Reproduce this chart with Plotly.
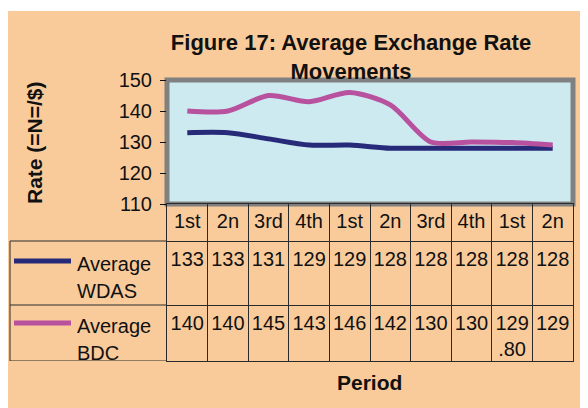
import plotly.graph_objects as go

W, H = 588, 408

periods = ["1st", "2n", "3rd", "4th", "1st", "2n", "3rd", "4th", "1st", "2n"]
wdas = [133, 133, 131, 129, 129, 128, 128, 128, 128, 128]
bdc = [140, 140, 145, 143, 146, 142, 130, 130, 129.80, 129]
wdas_txt = ["133", "133", "131", "129", "129", "128", "128", "128", "128", "128"]
bdc_txt = ["140", "140", "145", "143", "146", "142", "130", "130", "129<br>.80", "129"]
y_ticks = [110, 120, 130, 140, 150]

NAVY = "#262a78"
MAGENTA = "#b8519e"
ORANGE = "#f9cb9b"
BLUE = "#cdeaf0"
GRID = "#2a2a2a"
FONT = "Arial, Liberation Sans, sans-serif"

idx = list(range(len(periods)))

# page has an 8px body margin; margins are zero so paper = pixels / size
def px(x):
    return (x - 8) / W


def py(y):
    return 1 - (y - 8) / H


# table rows in y2 units (0 = table bottom)
row_edges = [0, 56, 120, 157]

fig = go.Figure()

fig.add_trace(go.Scatter(
    x=idx, y=wdas, mode="lines", line=dict(color=NAVY, width=5, shape="spline", smoothing=0.8),
    hoverinfo="skip", showlegend=False))
fig.add_trace(go.Scatter(
    x=idx, y=bdc, mode="lines", line=dict(color=MAGENTA, width=5, shape="spline", smoothing=0.8),
    hoverinfo="skip", showlegend=False))

# data table
txt_font = dict(family=FONT, size=20, color="#111")
fig.add_trace(go.Scatter(
    x=idx, y=[138] * len(idx), text=periods, mode="text", textposition="middle center",
    textfont=txt_font, xaxis="x2", yaxis="y2", hoverinfo="skip", showlegend=False))
fig.add_trace(go.Scatter(
    x=idx, y=[row_edges[2] - 10] * len(idx), text=wdas_txt, mode="text",
    textposition="bottom center", textfont=txt_font, xaxis="x2", yaxis="y2",
    hoverinfo="skip", showlegend=False))
fig.add_trace(go.Scatter(
    x=idx, y=[row_edges[1] - 10] * len(idx), text=bdc_txt, mode="text",
    textposition="bottom center", textfont=txt_font, xaxis="x2", yaxis="y2",
    hoverinfo="skip", showlegend=False))

xdom = [px(167), px(573)]
shapes = [
    # orange panel
    dict(type="rect", xref="paper", yref="paper", x0=0, x1=1.05, y0=-0.05, y1=py(11),
         fillcolor=ORANGE, line_width=0, layer="below"),
    # plot area with grey frame
    dict(type="rect", xref="x domain", yref="y domain", x0=0, x1=1, y0=0, y1=1,
         fillcolor=BLUE, line=dict(color="#808080", width=5), layer="below"),
    # legend column of the table
    dict(type="line", xref="paper", yref="y2", x0=px(10), x1=xdom[0], y0=row_edges[2], y1=row_edges[2],
         line=dict(color=GRID, width=1)),
    dict(type="line", xref="paper", yref="y2", x0=px(10), x1=xdom[0], y0=row_edges[1], y1=row_edges[1],
         line=dict(color=GRID, width=1)),
    dict(type="line", xref="paper", yref="y2", x0=px(10), x1=xdom[0], y0=0, y1=0,
         line=dict(color=GRID, width=1)),
    dict(type="line", xref="paper", yref="y2", x0=px(10), x1=px(10), y0=0, y1=row_edges[2],
         line=dict(color=GRID, width=1)),
    # legend keys
    dict(type="line", xref="paper", yref="y2", x0=px(14), x1=px(71), y0=100, y1=100,
         line=dict(color=NAVY, width=5)),
    dict(type="line", xref="paper", yref="y2", x0=px(14), x1=px(71), y0=38, y1=38,
         line=dict(color=MAGENTA, width=5)),
]

annotations = []
for label, y in [("Average", 97), ("WDAS", 70), ("Average", 35), ("BDC", 8)]:
    annotations.append(dict(text=label, xref="paper", yref="y2", x=px(75), y=y,
                            xanchor="left", yanchor="middle", showarrow=False, font=txt_font))
annotations.append(dict(text="<b>Period</b>", xref="paper", yref="paper", x=px(369), y=py(382),
                        xanchor="center", yanchor="middle", showarrow=False,
                        font=dict(family=FONT, size=21, color="#111")))
annotations.append(dict(text="<b>Rate (=N=/$)</b>", xref="paper", yref="paper", x=px(35), y=py(143),
                        xanchor="center", yanchor="middle", textangle=-90, showarrow=False,
                        font=dict(family=FONT, size=21, color="#111")))

fig.update_layout(
    width=W, height=H,
    template="none",
    margin=dict(l=0, r=0, t=0, b=0),
    paper_bgcolor="white",
    plot_bgcolor="rgba(0,0,0,0)",
    showlegend=False,
    font=dict(family=FONT, color="#111"),
    title=dict(text="<b>Figure 17: Average Exchange Rate<br>Movements</b>",
               x=px(351), xanchor="center", xref="paper",
               y=py(50), yanchor="top", yref="container",
               font=dict(family=FONT, size=22, color="#111")),
    xaxis=dict(domain=xdom, range=[-0.5, len(idx) - 0.5], visible=False, anchor="y"),
    yaxis=dict(domain=[py(204), py(80)], range=[110, 150], tickvals=y_ticks,
               ticks="outside", ticklen=6, tickcolor="#111", showgrid=False, zeroline=False,
               showline=False, tickfont=dict(family=FONT, size=20, color="#111"),
               ticklabelstandoff=4, anchor="x"),
    xaxis2=dict(domain=xdom, range=[-0.5, len(idx) - 0.5], anchor="y2",
                tickvals=[i - 0.5 for i in range(len(idx) + 1)], showticklabels=False, ticks="",
                showgrid=True, gridcolor=GRID, gridwidth=1, zeroline=False,
                showline=True, mirror=True, linecolor=GRID, linewidth=1),
    yaxis2=dict(domain=[py(361), py(204)], range=[row_edges[0], row_edges[-1]], anchor="x2",
                tickvals=row_edges[1:3], showticklabels=False, ticks="",
                showgrid=True, gridcolor=GRID, gridwidth=1, zeroline=False,
                showline=True, mirror=True, linecolor=GRID, linewidth=1),
    shapes=shapes,
    annotations=annotations,
)

fig.write_html("out.html")
